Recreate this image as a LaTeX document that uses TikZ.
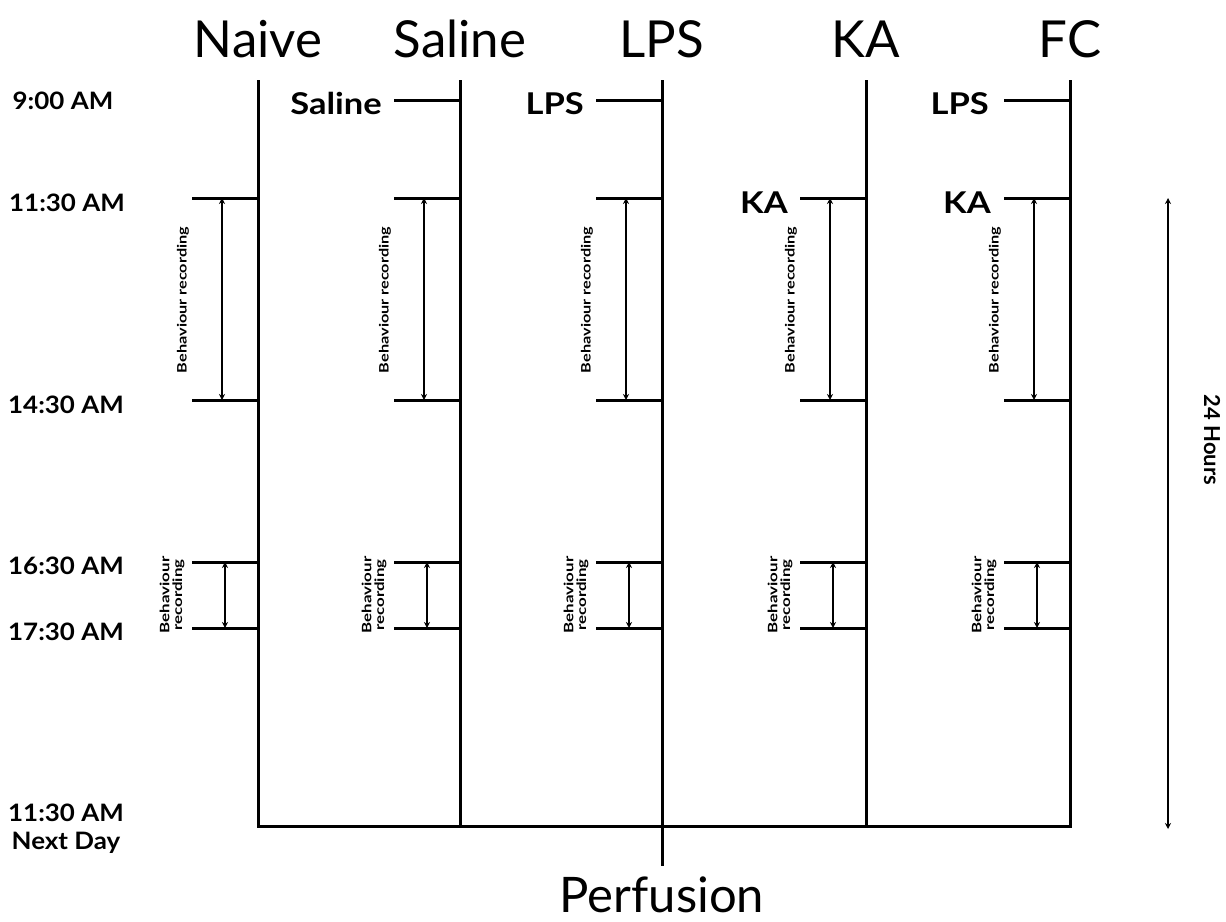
\documentclass[tikz,border=0pt]{standalone}
\usepackage{fontspec}
\setmainfont{Lato}
\usetikzlibrary{arrows.meta}
\begin{document}
\begin{tikzpicture}[x=1pt,y=-1pt,
  main/.style={line width=3pt},
  rec/.style={line width=2.2pt,{Stealth[length=6pt,width=6pt]}-{Stealth[length=6pt,width=6pt]}},
  head/.style={font=\fontsize{51}{55}\selectfont, inner sep=0pt, anchor=base},
  tlabel/.style={font=\bfseries\fontsize{24}{28}\selectfont, inner sep=0pt, align=center},
  drug/.style={font=\bfseries\fontsize{30}{32}\selectfont, anchor=base east, inner sep=0pt},
  reclab/.style={font=\bfseries\fontsize{13}{20}\selectfont, rotate=90, inner sep=0pt}
]
\useasboundingbox (0,0) rectangle (1226,921);

% headers
\node[head] (hNaive)  at (258,57) {Naive};
\node[head] (hSaline) at (460,57) {Saline};
\node[head] (hLPS)    at (662,57) {LPS};
\node[head] (hKA)     at (866,57) {KA};
\node[head] (hFC)     at (1070,57) {FC};

% time labels
\node[tlabel] (t900)  at (63,101) {\scalebox{1.08}[1]{9:00 AM}};
\node[tlabel] (t1130) at (67,203) {\scalebox{1.08}[1]{11:30 AM}};
\node[tlabel] (t1430) at (66,405) {\scalebox{1.08}[1]{14:30 AM}};
\node[tlabel] (t1630) at (66,566) {\scalebox{1.08}[1]{16:30 AM}};
\node[tlabel] (t1730) at (66,632) {\scalebox{1.08}[1]{17:30 AM}};
\node[tlabel] (tnext) at (66,829) {\scalebox{1.08}[1]{11:30 AM}\\\scalebox{1.08}[1]{Next Day}};

% columns
\foreach \n/\x in {n/258,s/460,l/662,k/866,f/1070}{
  \coordinate (top\n) at (\x,80);
  \coordinate (bot\n) at (\x,826);
  \foreach \y/\t in {198/a,400/b,562/c,628/d}{
    \coordinate (tk\n\t0) at (\x-66,\y);
    \coordinate (tk\n\t1) at (\x,\y);
    \draw[main] (tk\n\t0) -- (tk\n\t1);
  }
  \coordinate (ra\n) at (\x-36,198);
  \coordinate (rb\n) at (\x-36,400);
  \coordinate (rc\n) at (\x-33,562);
  \coordinate (rd\n) at (\x-33,628);
  \draw[rec] (ra\n) -- (rb\n);
  \draw[rec] (rc\n) -- (rd\n);
  \node[reclab] (long\n) at (\x-75,300) {\scalebox{1.25}[1]{Behaviour recording}};
  \node[reclab] (short\n) at (\x-86,595) {\scalebox{1.3}[1]{\shortstack{Behaviour\\recording}}};
}
\draw[main, line join=miter] (topn) -- (botn) -- (botf) -- (topf);
\draw[main] (tops) -- (bots);
\draw[main] (topl) -- (botl);
\draw[main] (topk) -- (botk);

% perfusion
\coordinate (perf) at (662,866);
\draw[main] (botl) -- (perf);
\node[head, font=\fontsize{49}{53}\selectfont] (perfusion) at (662,912) {Perfusion};

% injections
\foreach \n/\x in {s/460,l/662,f/1070}{
  \coordinate (in\n0) at (\x-66,100);
  \coordinate (in\n1) at (\x,100);
  \draw[main] (in\n0) -- (in\n1);
}
\node[drug] (dSaline) at (382,114) {\scalebox{1.15}[1]{Saline}};
\node[drug] (dLPS1)   at (584,114) {\scalebox{1.15}[1]{LPS}};
\node[drug] (dKA1)    at (788,213) {\scalebox{1.15}[1]{KA}};
\node[drug] (dLPS2)   at (989,114) {\scalebox{1.15}[1]{LPS}};
\node[drug] (dKA2)    at (991,213) {\scalebox{1.15}[1]{KA}};

% 24 hours
\coordinate (h0) at (1168,198);
\coordinate (h1) at (1168,829);
\draw[rec] (h0) -- (h1);
\node[font=\bfseries\fontsize{22}{24}\selectfont, rotate=-90, inner sep=0pt] (hours) at (1212,440) {24 Hours};
\end{tikzpicture}
\end{document}
